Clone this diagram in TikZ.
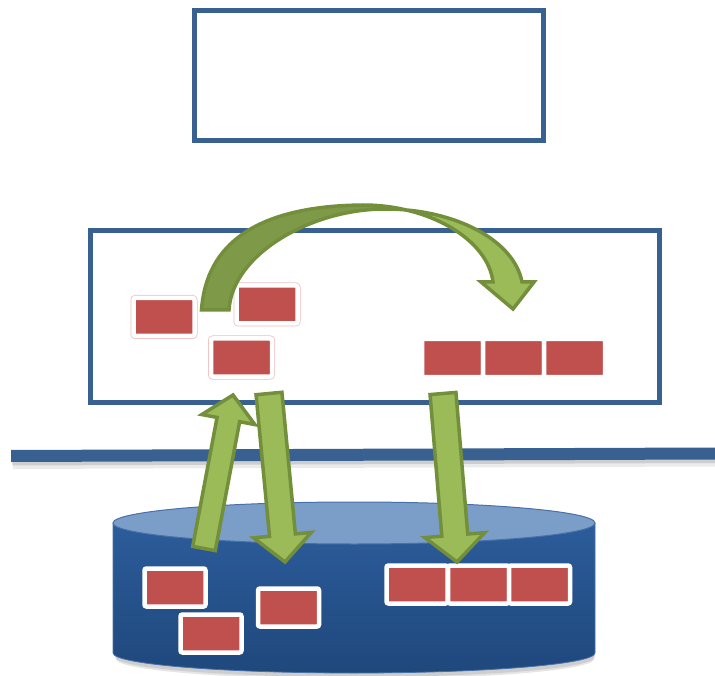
\documentclass[tikz,border=0pt]{standalone}
\usetikzlibrary{calc}

\definecolor{frameblue}{RGB}{56,97,145}
\definecolor{boxred}{RGB}{192,80,77}
\definecolor{boxpink}{RGB}{236,190,190}
\definecolor{arrowfill}{RGB}{155,187,89}
\definecolor{arrowdark}{RGB}{126,154,72}
\definecolor{arrowline}{RGB}{115,143,59}
\definecolor{cyltop}{RGB}{44,92,155}
\definecolor{cylbottom}{RGB}{31,72,124}
\definecolor{cyllid}{RGB}{122,158,199}
\definecolor{cyledge}{RGB}{72,112,170}

\tikzset{
  frame/.style={draw=frameblue, line width=5pt},
  redbox/.style={rectangle, minimum width=61pt, minimum height=38pt, inner sep=0pt,
    fill=boxred, draw=white, line width=4.5pt, rounded corners=2pt},
  glowbox/.style={redbox, preaction={draw=boxpink, line width=6pt}},
  greenarrow/.style={fill=arrowfill, draw=arrowline, line width=3.5pt, line join=miter},
}

% straight block arrow: tail, tip, shaft half width, head half width, head length
\newcommand\blockarrow[5]{%
  \path ($(#2)!#5!(#1)$) coordinate (hb);
  \filldraw[greenarrow]
    ($(#1)!#3!90:(#2)$) -- ($(hb)!#3!90:(#2)$) -- ($(hb)!#4!90:(#2)$) -- (#2)
    -- ($(hb)!#4!-90:(#2)$) -- ($(hb)!#3!-90:(#2)$) -- ($(#1)!#3!-90:(#2)$) -- cycle;
}

\begin{document}
\begin{tikzpicture}[x=1pt, y=-1pt]
\useasboundingbox (0,0) rectangle (715,676);

% the two frames
\draw[frame] (194.5,10.5) rectangle (543.5,140.5);
\draw[frame] (90.5,230.5) rectangle (659.5,402.5);

% dividing bar with soft shadow
\fill[black, opacity=0.08] (13,455) -- (715,452.5) -- (715,466.5) -- (13,469) -- cycle;
\fill[black, opacity=0.12] (12,453) -- (715,450.5) -- (715,463) -- (12,465.5) -- cycle;
\fill[frameblue] (11,450) -- (715,447.5) -- (715,459.5) -- (11,462) -- cycle;

% storage cylinder
\fill[black, opacity=0.10] (116,530) -- (116,659) arc[start angle=180, end angle=0, x radius=239, y radius=20] -- (592,530) -- cycle;
\fill[black, opacity=0.10] (115,530) -- (115,657) arc[start angle=180, end angle=0, x radius=240, y radius=20] -- (594,530) -- cycle;
\shade[top color=cyltop, bottom color=cylbottom]
  (113,523) -- (113,653) arc[start angle=180, end angle=0, x radius=241, y radius=20] -- (595,523) -- cycle;
\draw[cyledge, line width=0.8pt] (113,523) -- (113,653) arc[start angle=180, end angle=0, x radius=241, y radius=20] -- (595,523);
\filldraw[fill=cyllid, draw=cyledge, line width=1pt] (354,523) ellipse[x radius=241, y radius=21];

% records stored in the cylinder
\node[redbox] (c1) at (175,587.5) {};
\node[redbox] (c2) at (211,633.5) {};
\node[redbox] (c3) at (288.5,607.5) {};
\node[redbox] (c4) at (417,584.5) {};
\node[redbox] (c5) at (478.5,584.5) {};
\node[redbox] (c6) at (539.5,584.5) {};

% records in the working area
\node[glowbox] (m1) at (164,317) {};
\node[glowbox] (m2) at (267,304.5) {};
\node[glowbox] (m3) at (241.5,357.5) {};
\node[redbox] (m4) at (452.5,358) {};
\node[redbox] (m5) at (513.5,358) {};
\node[redbox] (m6) at (574.5,358) {};

% arrow end points
\coordinate (upTail) at (204,548.5);
\coordinate (upTip) at (233,395);
\coordinate (dnTailA) at (269,393.5);
\coordinate (dnTipA) at (285,562);
\coordinate (dnTailB) at (443,393.5);
\coordinate (dnTipB) at (457,562);

% load, store and flush arrows
\blockarrow{upTail}{upTip}{11.5pt}{27pt}{25pt}
\blockarrow{dnTailA}{dnTipA}{13pt}{29pt}{27pt}
\blockarrow{dnTailB}{dnTipB}{13pt}{30pt}{27pt}

% curved move arrow
\def\curvedfull{(201.5,310) .. controls (206,245) and (255,206) .. (363,205)
  .. controls (430,205) and (488,240) .. (493,282) -- (481,282) -- (513,309) -- (534,282) -- (522,282)
  .. controls (514,240) and (455,209) .. (385,209)
  .. controls (310,209) and (232,255) .. (229,310) -- cycle}
\fill[arrowdark] \curvedfull;
\fill[arrowfill] (385,209) .. controls (440,212) and (487,243) .. (493,282) -- (481,282) -- (513,309)
  -- (534,282) -- (522,282) .. controls (514,240) and (455,209) .. (385,209) -- cycle;
\draw[arrowline, line width=3.5pt, line join=miter] \curvedfull;
\end{tikzpicture}
\end{document}
